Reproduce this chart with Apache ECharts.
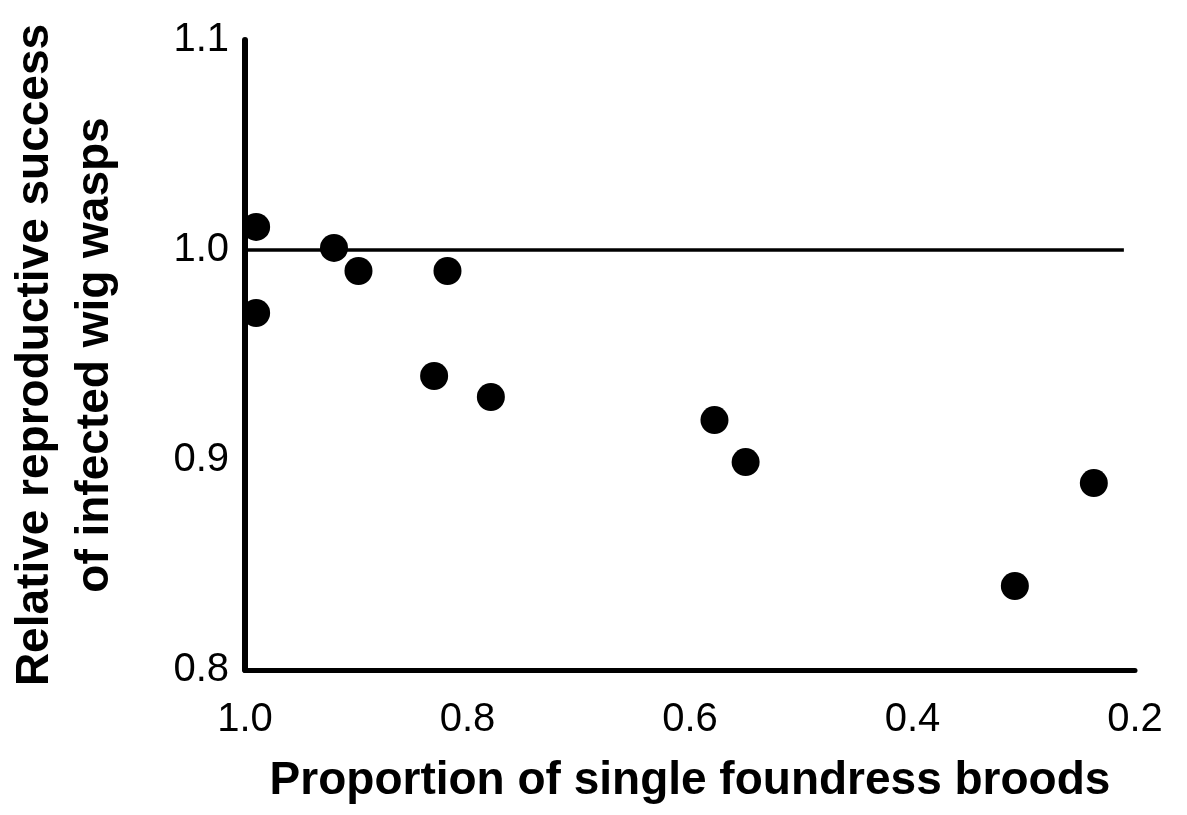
<!DOCTYPE html>
<html>
<head>
<meta charset="utf-8">
<script src="https://cdn.jsdelivr.net/npm/echarts@6/dist/echarts.min.js"></script>
<style>html,body{margin:0;padding:0;background:#fff;}#c{width:1187px;height:815px;}</style>
</head>
<body>
<div id="c"></div>
<script>
const xTitle = 'Proportion of single foundress broods';
const yTitle = 'Relative reproductive success\nof infected wig wasps';
const xProportion = [0.990, 0.990, 0.920, 0.898, 0.818, 0.830, 0.779, 0.578, 0.550, 0.308, 0.237];
const yRelSuccess = [1.011, 0.970, 1.001, 0.990, 0.990, 0.940, 0.930, 0.919, 0.899, 0.840, 0.889];
const refLineX = [1.0, 0.21];
const refLineY = [1.0, 1.0];

const chart = echarts.init(document.getElementById('c'), null, {renderer: 'canvas'});
const font = '"Liberation Sans", Arial, Helvetica, sans-serif';
chart.setOption({
  animation: false,
  backgroundColor: '#ffffff',
  grid: {left: 245, right: 52, top: 40, bottom: 145, containLabel: false, outerBoundsMode: 'none'},
  xAxis: {
    type: 'value', inverse: true, min: 0.2, max: 1.0, interval: 0.2,
    name: xTitle, nameLocation: 'middle', nameGap: 88,
    nameTextStyle: {fontFamily: font, fontWeight: 'bold', fontSize: 46, color: '#000'},
    axisLine: {show: true, lineStyle: {color: '#000', width: 5}},
    axisTick: {show: false},
    splitLine: {show: false},
    axisLabel: {fontFamily: font, fontSize: 40, color: '#000', margin: 30,
      formatter: v => v.toFixed(1)}
  },
  yAxis: {
    type: 'value', min: 0.8, max: 1.1, interval: 0.1,
    name: yTitle, nameLocation: 'middle', nameGap: 120, nameRotate: 90,
    nameTextStyle: {fontFamily: font, fontWeight: 'bold', fontSize: 46, color: '#000', lineHeight: 60},
    axisLine: {show: true, lineStyle: {color: '#000', width: 6}},
    axisTick: {show: false},
    splitLine: {show: false},
    axisLabel: {fontFamily: font, fontSize: 40, color: '#000', margin: 16,
      formatter: v => v.toFixed(1)}
  },
  series: [
    {
      type: 'line', data: refLineX.map((x, i) => [x, refLineY[i]]),
      symbol: 'none', lineStyle: {color: '#000', width: 3.5}, z: 1
    },
    {
      type: 'scatter', data: xProportion.map((x, i) => [x, yRelSuccess[i]]),
      symbol: 'circle', symbolSize: 28, itemStyle: {color: '#000', opacity: 1}, z: 3
    }
  ]
});
</script>
</body>
</html>
